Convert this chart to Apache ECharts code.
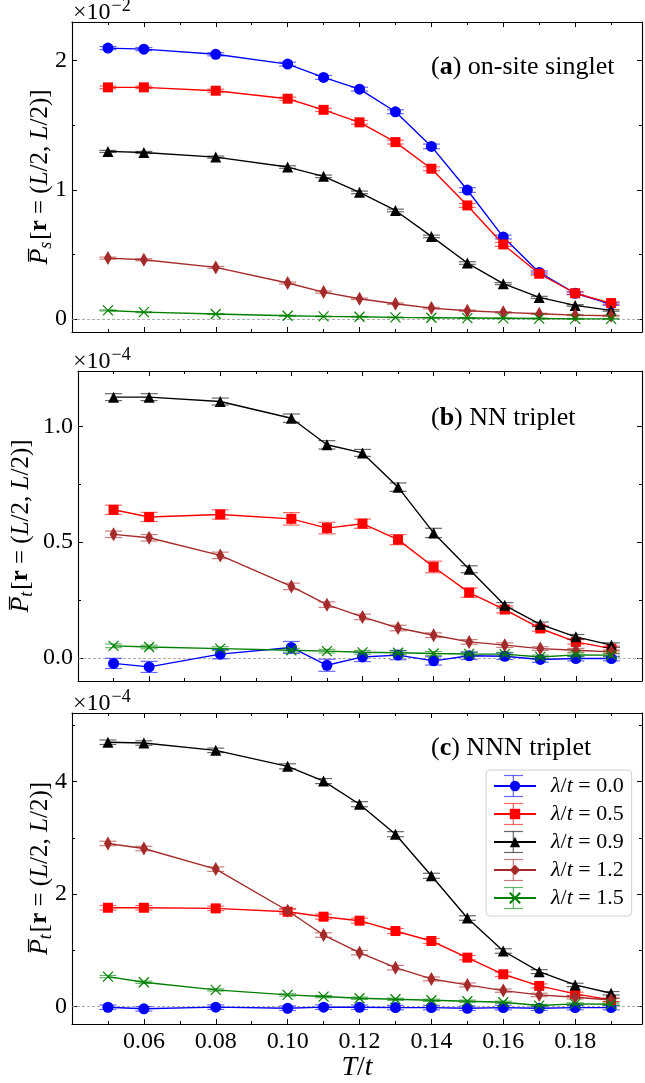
<!DOCTYPE html>
<html>
<head>
<meta charset="utf-8">
<script src="https://cdn.jsdelivr.net/npm/echarts@6/dist/echarts.min.js"></script>
<style>
html,body{margin:0;padding:0;background:#fff;}
#chart{width:645px;height:1083px;}
</style>
</head>
<body>
<div id="chart"></div>
<script>
// ---------- data ----------
const T = [0.05, 0.06, 0.08, 0.10, 0.11, 0.12, 0.13, 0.14, 0.15, 0.16, 0.17, 0.18, 0.19];
const lambdaLabels = ['0.0', '0.5', '0.9', '1.2', '1.5'];
const xTickLabels = ['0.06', '0.08', '0.10', '0.12', '0.14', '0.16', '0.18'];

// (a) on-site singlet, units of 1e-2
const a_l00 = [2.098, 2.090, 2.050, 1.974, 1.871, 1.780, 1.605, 1.337, 0.999, 0.635, 0.361, 0.200, 0.116];
const a_l05 = [1.794, 1.794, 1.768, 1.706, 1.620, 1.523, 1.370, 1.164, 0.880, 0.578, 0.351, 0.200, 0.124];
const a_l09 = [1.298, 1.290, 1.254, 1.177, 1.105, 0.981, 0.841, 0.640, 0.434, 0.274, 0.168, 0.106, 0.067];
const a_l12 = [0.472, 0.459, 0.400, 0.279, 0.209, 0.157, 0.119, 0.085, 0.065, 0.052, 0.041, 0.031, 0.026];
const a_l15 = [0.067, 0.054, 0.039, 0.026, 0.021, 0.018, 0.013, 0.010, 0.008, 0.006, 0.004, 0.002, 0.002];
const a_e00 = [0.012, 0.012, 0.012, 0.015, 0.015, 0.015, 0.015, 0.018, 0.018, 0.015, 0.012, 0.010, 0.010];
const a_e05 = [0.010, 0.010, 0.012, 0.012, 0.012, 0.015, 0.015, 0.015, 0.015, 0.015, 0.012, 0.010, 0.010];
const a_e09 = [0.008, 0.008, 0.008, 0.010, 0.010, 0.010, 0.010, 0.010, 0.010, 0.008, 0.008, 0.006, 0.006];
const a_e12 = [0.008, 0.008, 0.008, 0.008, 0.008, 0.006, 0.006, 0.006, 0.005, 0.005, 0.004, 0.004, 0.004];
const a_e15 = [0.004, 0.004, 0.004, 0.004, 0.003, 0.003, 0.003, 0.003, 0.003, 0.003, 0.003, 0.003, 0.003];

// (b) NN triplet, units of 1e-4
const b_l00 = [-0.024, -0.039, 0.016, 0.045, -0.032, 0.004, 0.012, -0.013, 0.009, 0.007, -0.007, -0.003, -0.003];
const b_l05 = [0.640, 0.609, 0.620, 0.601, 0.561, 0.580, 0.511, 0.393, 0.282, 0.209, 0.127, 0.069, 0.040];
const b_l09 = [1.127, 1.127, 1.108, 1.036, 0.921, 0.886, 0.738, 0.540, 0.383, 0.227, 0.145, 0.091, 0.055];
const b_l12 = [0.534, 0.519, 0.443, 0.309, 0.230, 0.177, 0.129, 0.098, 0.069, 0.055, 0.040, 0.033, 0.026];
const b_l15 = [0.052, 0.047, 0.040, 0.033, 0.029, 0.024, 0.022, 0.019, 0.017, 0.016, 0.004, 0.013, 0.012];
const b_e00 = [0.022, 0.024, 0.020, 0.026, 0.026, 0.020, 0.020, 0.018, 0.016, 0.014, 0.012, 0.010, 0.010];
const b_e05 = [0.020, 0.020, 0.020, 0.027, 0.025, 0.020, 0.022, 0.025, 0.020, 0.015, 0.012, 0.010, 0.010];
const b_e09 = [0.015, 0.015, 0.015, 0.018, 0.018, 0.015, 0.018, 0.020, 0.015, 0.012, 0.010, 0.010, 0.010];
const b_e12 = [0.014, 0.014, 0.014, 0.014, 0.012, 0.012, 0.012, 0.010, 0.010, 0.010, 0.008, 0.008, 0.008];
const b_e15 = [0.008, 0.008, 0.008, 0.008, 0.008, 0.008, 0.008, 0.008, 0.008, 0.008, 0.008, 0.008, 0.008];

// (c) NNN triplet, units of 1e-4
const c_l00 = [-0.012, -0.040, -0.010, -0.030, -0.010, -0.012, -0.018, -0.018, -0.030, -0.018, -0.030, -0.018, -0.018];
const c_l05 = [1.757, 1.757, 1.746, 1.686, 1.598, 1.527, 1.343, 1.166, 0.870, 0.574, 0.367, 0.225, 0.118];
const c_l09 = [4.700, 4.686, 4.556, 4.272, 4.010, 3.598, 3.065, 2.325, 1.574, 0.988, 0.621, 0.385, 0.237];
const c_l12 = [2.900, 2.810, 2.444, 1.704, 1.272, 0.959, 0.692, 0.491, 0.385, 0.284, 0.207, 0.166, 0.118];
const c_l15 = [0.533, 0.432, 0.296, 0.207, 0.178, 0.148, 0.130, 0.112, 0.095, 0.077, 0.018, 0.047, 0.041];
const c_e00 = [0.040, 0.040, 0.040, 0.040, 0.040, 0.040, 0.040, 0.040, 0.040, 0.040, 0.040, 0.040, 0.040];
const c_e05 = [0.040, 0.040, 0.040, 0.045, 0.045, 0.045, 0.045, 0.045, 0.040, 0.040, 0.035, 0.030, 0.030];
const c_e09 = [0.040, 0.040, 0.040, 0.045, 0.045, 0.045, 0.045, 0.045, 0.040, 0.040, 0.035, 0.030, 0.030];
const c_e12 = [0.040, 0.040, 0.040, 0.040, 0.040, 0.040, 0.040, 0.035, 0.035, 0.030, 0.030, 0.030, 0.030];
const c_e15 = [0.020, 0.020, 0.020, 0.020, 0.020, 0.020, 0.020, 0.020, 0.020, 0.020, 0.020, 0.020, 0.020];

// ---------- style ----------
const FONT = 'Liberation Serif';
const colors = ['#0000ff', '#ff0000', '#000000', '#a52a2a', '#008000'];
const symbols = ['circle', 'rect', 'triangle', 'diamond', 'path://M0,0L10,10M0,10L10,0'];
const symSizes = [11, 10, 11, [8, 14], 10];

const panels = [
  { vals: [a_l00, a_l05, a_l09, a_l12, a_l15], errs: [a_e00, a_e05, a_e09, a_e12, a_e15],
    top: 22, height: 310, ymin: -0.1, ymax: 2.3, step: 1, dec: 0, sub: 's', exp: '−2', nameGap: 17,
    labelB: 'a', labelText: ' on-site singlet', labelY: 67 },
  { vals: [b_l00, b_l05, b_l09, b_l12, b_l15], errs: [b_e00, b_e05, b_e09, b_e12, b_e15],
    top: 371, height: 310, ymin: -0.1, ymax: 1.24, step: 0.5, dec: 1, sub: 't', exp: '−4', nameGap: 42,
    labelB: 'b', labelText: ' NN triplet', labelY: 418 },
  { vals: [c_l00, c_l05, c_l09, c_l12, c_l15], errs: [c_e00, c_e05, c_e09, c_e12, c_e15],
    top: 713, height: 311, ymin: -0.31, ymax: 5.22, step: 2, dec: 0, sub: 't', exp: '−4', nameGap: 17,
    labelB: 'c', labelText: ' NNN triplet', labelY: 748 }
];

const seriesNames = lambdaLabels.map(l => 'λ/t = ' + l);

const grids = [], xAxes = [], yAxes = [], series = [], graphics = [];

const tickCommon = { inside: true, length: 5, lineStyle: { color: '#000', width: 1 } };
const minorCommon = { show: true, splitNumber: 2, length: 3, lineStyle: { color: '#000', width: 1 } };
const lineCommon = { show: true, onZero: false, lineStyle: { color: '#000', width: 1.1 } };

panels.forEach((p, k) => {
  grids.push({ left: 72, right: 3, top: p.top, height: p.height, containLabel: false });
  const xBase = {
    type: 'value', gridIndex: k, min: 0.04, max: 0.1986, minInterval: 0.02, maxInterval: 0.02,
    splitLine: { show: false }, axisLine: lineCommon, axisTick: tickCommon, minorTick: minorCommon
  };
  xAxes.push(Object.assign({}, xBase, {
    position: 'bottom',
    axisLabel: {
      show: k === 2, margin: 6, color: '#000', fontFamily: FONT, fontSize: 24,
      formatter: v => { const s = v.toFixed(2); return xTickLabels.indexOf(s) >= 0 && Math.abs(v - parseFloat(s)) < 1e-6 ? s : ''; }
    },
    name: k === 2 ? '{i|T}/{i|t}' : '',
    nameLocation: 'middle', nameGap: 30, nameMoveOverlap: false,
    nameTextStyle: { fontFamily: FONT, fontSize: 28, color: '#000', rich: { i: { fontFamily: FONT, fontSize: 28, fontStyle: 'italic' } } }
  }));
  xAxes.push(Object.assign({}, xBase, { position: 'top', axisLabel: { show: false } }));

  const yBase = {
    type: 'value', gridIndex: k, min: p.ymin, max: p.ymax, minInterval: p.step, maxInterval: p.step, splitNumber: 3,
    splitLine: { show: false }, axisLine: lineCommon, axisTick: tickCommon, minorTick: minorCommon
  };
  const richName = {
    p: { fontFamily: FONT, fontSize: 26, fontStyle: 'italic' },
    s: { fontFamily: FONT, fontSize: 18, fontStyle: 'italic', padding: [12, 2, 0, 0] },
    n: { fontFamily: FONT, fontSize: 25 },
    b: { fontFamily: FONT, fontSize: 25, fontWeight: 'bold' },
    i: { fontFamily: FONT, fontSize: 25, fontStyle: 'italic' }
  };
  yAxes.push(Object.assign({}, yBase, {
    position: 'left',
    axisLabel: {
      margin: 5, color: '#000', fontFamily: FONT, fontSize: 24,
      formatter: v => { const r = Math.round(v / p.step) * p.step; return Math.abs(v - r) < 1e-6 ? r.toFixed(p.dec) : ''; }
    },
    name: '{p|P\u0305}{s|' + p.sub + '}{n|[}{b|r}{n| = (}{i|L}{n|/2, }{i|L}{n|/2)]}',
    nameLocation: 'middle', nameRotate: 90, nameGap: p.nameGap, nameMoveOverlap: false,
    nameTextStyle: { fontFamily: FONT, fontSize: 25, color: '#000', rich: richName }
  }));
  yAxes.push(Object.assign({}, yBase, { position: 'right', axisLabel: { show: false } }));

  const xi = 2 * k, yi = 2 * k;
  p.vals.forEach((vals, j) => {
    const s = {
      type: 'line', name: seriesNames[j], xAxisIndex: xi, yAxisIndex: yi,
      data: T.map((t, i) => [t, vals[i]]),
      symbol: symbols[j], symbolSize: symSizes[j], showSymbol: true, showAllSymbol: true,
      lineStyle: { color: colors[j], width: 1.4 },
      itemStyle: j === 4 ? { color: colors[j], borderColor: colors[j], borderWidth: 1.2 } : { color: colors[j] },
      z: 3 + j, animation: false, silent: true
    };
    if (j === 0) {
      s.markLine = {
        silent: true, symbol: 'none', label: { show: false }, animation: false,
        lineStyle: { color: '#999', width: 0.8, type: [3, 2] },
        data: [{ yAxis: 0 }], z: 1
      };
    }
    series.push(s);
    const errs = p.errs[j];
    series.push({
      type: 'custom', xAxisIndex: xi, yAxisIndex: yi, silent: true, animation: false, z: 3 + j,
      dimensions: ['x', 'y', 'e'], encode: { x: 'x', y: 'y' },
      data: T.map((t, i) => [t, vals[i], errs[i]]),
      renderItem: (params, api) => {
        const x = api.value(0), y = api.value(1), e = api.value(2);
        const lo = api.coord([x, y - e]), hi = api.coord([x, y + e]);
        const hw = 8.5;
        const st = { stroke: colors[j], lineWidth: 1.2, opacity: 0.6 };
        return { type: 'group', children: [
          { type: 'line', shape: { x1: lo[0], y1: lo[1], x2: hi[0], y2: hi[1] }, style: st },
          { type: 'line', shape: { x1: lo[0] - hw, y1: lo[1], x2: lo[0] + hw, y2: lo[1] }, style: st },
          { type: 'line', shape: { x1: hi[0] - hw, y1: hi[1], x2: hi[0] + hw, y2: hi[1] }, style: st }
        ] };
      }
    });
  });

  // exponent label
  graphics.push({
    type: 'text', x: 73, y: p.top - 9,
    style: {
      text: '×10{sup|' + p.exp + '}', fontFamily: FONT, fontSize: 24, fill: '#000', verticalAlign: 'middle',
      rich: { sup: { fontFamily: FONT, fontSize: 18, padding: [0, 0, 14, 1] } }
    }
  });
  // panel label
  graphics.push({
    type: 'text', x: 431, y: p.labelY,
    style: {
      text: '(' + '{b|' + p.labelB + '})' + p.labelText, fontFamily: FONT, fontSize: 26, fill: '#000', verticalAlign: 'middle',
      rich: { b: { fontFamily: FONT, fontSize: 26, fontWeight: 'bold' } }
    }
  });
});

// legend error-bar decorations
const legendRows = [786, 814, 842, 870, 898];
legendRows.forEach((yy, j) => {
  const st = { stroke: colors[j], lineWidth: 1.2, opacity: 0.6 };
  graphics.push({ type: 'line', z: 200, shape: { x1: 513.3, y1: yy - 10.5, x2: 513.3, y2: yy + 10.5 }, style: st });
  graphics.push({ type: 'line', z: 200, shape: { x1: 504, y1: yy - 10.5, x2: 523, y2: yy - 10.5 }, style: st });
  graphics.push({ type: 'line', z: 200, shape: { x1: 504, y1: yy + 10.5, x2: 523, y2: yy + 10.5 }, style: st });
});

const chart = echarts.init(document.getElementById('chart'), null, { renderer: 'canvas' });
chart.setOption({
  backgroundColor: '#fff',
  animation: false,
  grid: grids,
  xAxis: xAxes,
  yAxis: yAxes,
  legend: {
    data: seriesNames, orient: 'vertical', left: 486, top: 770,
    padding: [5, 8, 7, 7], itemWidth: 42, itemHeight: 13, itemGap: 6,
    backgroundColor: '#fff', borderColor: '#d0d0d0', borderWidth: 1, borderRadius: 4,
    selectedMode: false, z: 100,
    formatter: name => '{i|λ}/{i|t} = ' + name.split('= ')[1],
    textStyle: {
      fontFamily: FONT, fontSize: 22, color: '#000', lineHeight: 22, padding: [0, 0, 0, 10],
      rich: { i: { fontFamily: FONT, fontSize: 22, fontStyle: 'italic', lineHeight: 22 } }
    }
  },
  graphic: graphics,
  series: series
});
</script>
</body>
</html>
